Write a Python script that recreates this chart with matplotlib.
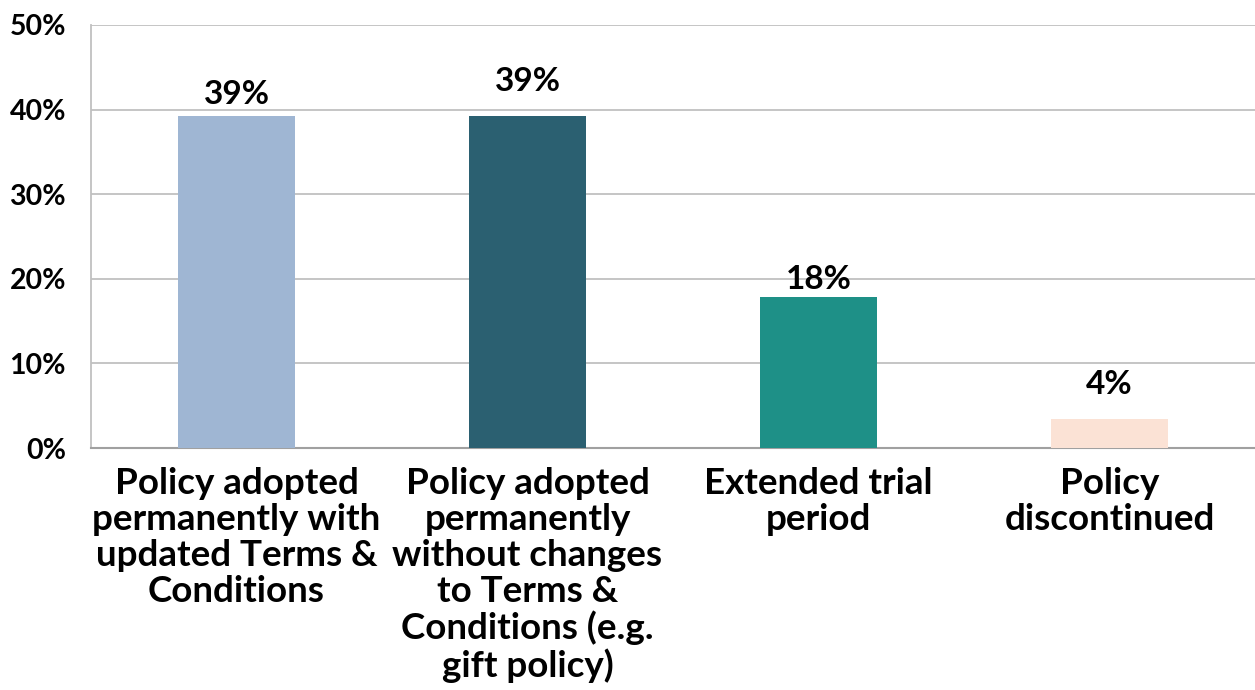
import numpy as np
import matplotlib.pyplot as plt

# categories and values
categories = [
    "Policy adopted\npermanently with\nupdated Terms &\nConditions",
    "Policy adopted\npermanently\nwithout changes\nto Terms &\nConditions (e.g.\ngift policy)",
    "Extended trial\nperiod",
    "Policy\ndiscontinued",
]
values = [39.2, 39.2, 17.9, 3.4]
labels = ["39%", "39%", "18%", "4%"]
colors = ["#9FB6D3", "#2B6071", "#1E9087", "#FBE2D5"]
label_offsets = [16, 25, 12, 25]  # points from bar top to label centre, as in the original
yticks = [0, 10, 20, 30, 40, 50]

plt.rcParams['font.family'] = ['Lato', 'DejaVu Sans']

fig = plt.figure(figsize=(12.55, 6.9), dpi=100)
ax = fig.add_axes([0.0725, 0.3507, 0.9275, 0.6131])

x = np.arange(len(categories))
ax.bar(x, values, width=0.4, color=colors, zorder=3)

for xi, v, lab, off in zip(x, values, labels, label_offsets):
    ax.annotate(lab, (xi, v), xytext=(0, off), textcoords="offset points",
                ha="center", va="center", fontsize=24, fontweight="bold")

ax.set_xlim(-0.5, len(categories) - 0.5)
ax.set_ylim(0, 50)
ax.set_yticks(yticks)
ax.set_yticklabels([f"{t}%" for t in yticks], fontsize=20.5, fontweight="bold")
ax.yaxis.grid(True, color="#C0C0C0", linewidth=1.3, zorder=0)
ax.set_xticks(x)
ax.set_xticklabels(categories, fontsize=26.5, fontweight="bold", linespacing=1.1, va="top")
ax.tick_params(axis="both", length=0)
ax.tick_params(axis="y", pad=18)
ax.tick_params(axis="x", pad=14)

for s in ["top", "right"]:
    ax.spines[s].set_visible(False)
ax.spines["left"].set_color("#C0C0C0")
ax.spines["left"].set_linewidth(1.3)
ax.spines["bottom"].set_color("#A0A0A0")
ax.spines["bottom"].set_linewidth(1.5)

fig.savefig("out.png", dpi=100)
